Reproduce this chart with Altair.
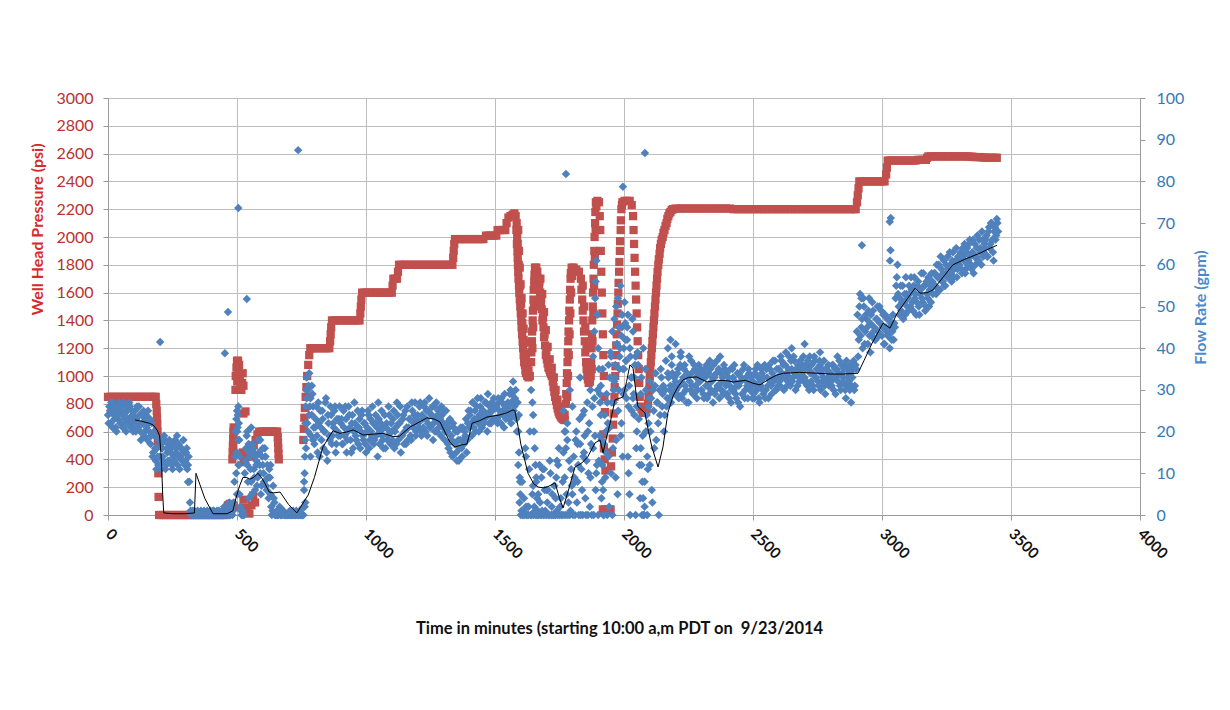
import altair as alt
import pandas as pd

FONT = "Lato"

# ---------------- data ----------------
x_ticks = [0, 500, 1000, 1500, 2000, 2500, 3000, 3500, 4000]
p_ticks = [0, 200, 400, 600, 800, 1000, 1200, 1400, 1600, 1800, 2000, 2200, 2400, 2600, 2800, 3000]
f_ticks = [0, 10, 20, 30, 40, 50, 60, 70, 80, 90, 100]

# Well head pressure (psi): (minute, psi)
pressure_points = [
    (0, 850), (10, 850), (20, 850), (30, 850), (40, 850), (50, 850), (60, 850), (70, 850), (80, 850), (90, 850),
    (100, 850), (110, 850), (120, 850), (130, 850), (140, 850), (150, 850), (160, 850), (170, 850), (180, 850), (185, 850),
    (187, 800), (189, 750), (190, 700), (191, 650), (192, 600), (193, 550), (194, 500), (195, 300), (196, 130), (198, 0),
    (205, 0), (215, 0), (225, 0), (235, 0), (245, 0), (255, 0), (265, 0), (275, 0), (285, 0), (295, 0),
    (305, 0), (315, 0), (325, 0), (335, 0), (345, 0), (355, 0), (365, 0), (375, 0), (385, 0), (395, 0),
    (405, 0), (415, 0), (425, 0), (435, 0), (445, 0), (455, 0),
    (465, 70), (472, 80), (480, 70), (488, 60),
    (482, 400), (483, 450), (484, 500), (485, 550), (486, 600), (487, 630),
    (494, 900), (495, 1000), (498, 1060), (500, 1110), (504, 1110), (508, 1080), (511, 1000), (514, 940), (517, 900),
    (520, 950), (522, 1020), (525, 930), (501, 960), (506, 1020),
    (525, 730), (533, 745),
    (522, 450), (527, 400), (532, 380), (537, 420), (542, 450),
    (525, 110), (532, 50), (540, 20), (548, 10), (556, 70), (563, 140), (570, 90),
    (552, 420), (558, 460), (565, 500), (572, 540), (579, 580), (586, 600), (594, 600), (602, 600), (610, 600),
    (618, 600), (626, 600), (634, 600), (642, 600), (650, 600), (656, 600),
    (658, 560), (659, 520), (660, 480), (661, 440), (662, 400),
    (757, 540), (759, 620), (761, 700), (763, 770), (766, 850), (769, 920), (772, 1000), (776, 1080), (780, 1150), (784, 1200),
    (792, 1200), (800, 1200), (810, 1200), (820, 1200), (830, 1200), (840, 1200), (850, 1200), (858, 1200),
    (861, 1250), (863, 1300), (865, 1350), (868, 1400),
    (878, 1400), (888, 1400), (898, 1400), (908, 1400), (918, 1400), (928, 1400), (938, 1400), (948, 1400), (958, 1400), (968, 1400), (975, 1400),
    (978, 1450), (980, 1500), (982, 1550), (985, 1600),
    (995, 1600), (1005, 1600), (1015, 1600), (1025, 1600), (1035, 1600), (1045, 1600), (1055, 1600), (1065, 1600), (1075, 1600), (1085, 1600), (1095, 1600), (1100, 1600),
    (1103, 1650), (1106, 1700), (1113, 1700), (1120, 1700), (1124, 1750), (1128, 1800),
    (1135, 1800), (1145, 1800), (1155, 1800), (1165, 1800), (1175, 1800), (1185, 1800), (1195, 1800), (1205, 1800), (1215, 1800), (1225, 1800),
    (1235, 1800), (1245, 1800), (1255, 1800), (1265, 1800), (1275, 1800), (1285, 1800), (1295, 1800), (1305, 1800), (1315, 1800), (1325, 1800), (1335, 1800),
    (1338, 1850), (1340, 1900), (1342, 1950), (1345, 1985),
    (1355, 1985), (1365, 1985), (1375, 1985), (1385, 1985), (1395, 1985), (1405, 1985), (1415, 1985), (1425, 1985), (1435, 1985), (1445, 1985), (1455, 1985),
    (1465, 2010), (1475, 2010), (1485, 2010), (1495, 2010), (1505, 2010),
    (1510, 2050), (1520, 2050), (1530, 2050), (1540, 2050),
    (1545, 2100), (1552, 2140), (1560, 2150), (1568, 2160), (1575, 2170), (1580, 2150),
    (1583, 2050), (1585, 1950), (1588, 1850), (1590, 1750), (1593, 1650), (1596, 1550), (1600, 1450), (1603, 1350), (1607, 1250),
    (1611, 1150), (1616, 1080), (1620, 1020), (1625, 1000), (1630, 990), (1635, 1000),
    (1588, 1950), (1592, 1800), (1597, 1650), (1601, 1520), (1606, 1380), (1611, 1260), (1616, 1160), (1622, 1070),
    (1640, 1100), (1643, 1250), (1646, 1400), (1649, 1550), (1652, 1680), (1655, 1780), (1660, 1780),
    (1664, 1750), (1668, 1700), (1675, 1600), (1681, 1480), (1688, 1350), (1694, 1220), (1701, 1120), (1707, 1060),
    (1714, 1030), (1720, 1000), (1727, 920), (1733, 850), (1740, 790), (1746, 745), (1752, 720), (1758, 700), (1764, 690), (1770, 683),
    (1672, 1680), (1679, 1560), (1686, 1420), (1692, 1300), (1699, 1180),
    (1775, 800), (1778, 950), (1781, 1100), (1784, 1250), (1787, 1400), (1790, 1550), (1793, 1700), (1797, 1780),
    (1805, 1780), (1815, 1765), (1825, 1750), (1833, 1700), (1838, 1550), (1843, 1400), (1848, 1250), (1853, 1100),
    (1858, 1000), (1863, 950), (1868, 960), (1873, 1100), (1876, 1300), (1879, 1500), (1882, 1700), (1885, 1900),
    (1888, 2100), (1891, 2250), (1897, 2260), (1903, 2250), (1906, 2150), (1908, 2050), (1910, 1900), (1912, 1750),
    (1914, 1600), (1916, 1450), (1918, 1300), (1920, 1150), (1922, 1000), (1924, 850), (1926, 740),
    (1920, 580), (1922, 480), (1925, 400), (1928, 320),
    (1918, 40), (1926, 40), (1934, 40), (1942, 40), (1948, 40),
    (1950, 350), (1953, 450), (1956, 550), (1958, 650), (1960, 730), (1963, 850), (1966, 1000), (1969, 1150), (1972, 1300),
    (1975, 1450), (1978, 1600), (1981, 1750), (1984, 1900), (1987, 2050), (1990, 2200), (1994, 2250),
    (2002, 2260), (2012, 2260), (2022, 2260), (2030, 2230),
    (2035, 2150), (2037, 2050), (2039, 1950), (2041, 1850), (2043, 1750), (2045, 1650), (2047, 1550), (2049, 1450),
    (2051, 1350), (2053, 1250), (2055, 1150), (2057, 1050), (2059, 950), (2061, 850), (2063, 780),
    (2068, 760), (2073, 740), (2078, 735), (2083, 740), (2088, 760),
    (2093, 800), (2097, 900), (2100, 1000), (2104, 1100), (2108, 1200), (2112, 1300), (2116, 1400), (2120, 1500),
    (2124, 1600), (2128, 1700), (2133, 1800), (2138, 1880), (2143, 1950), (2150, 2000), (2157, 2050), (2165, 2100),
    (2172, 2150), (2180, 2180), (2190, 2200),
    (2200, 2205), (2215, 2205), (2230, 2205), (2245, 2205), (2260, 2205), (2275, 2205), (2290, 2205), (2305, 2205),
    (2320, 2205), (2335, 2205), (2350, 2205), (2365, 2205), (2380, 2205), (2395, 2205), (2410, 2205), (2425, 2200),
    (2440, 2200), (2455, 2200), (2470, 2200), (2485, 2200), (2500, 2200), (2515, 2200), (2530, 2200), (2545, 2200),
    (2560, 2200), (2575, 2200), (2590, 2200), (2605, 2200), (2620, 2200), (2635, 2200), (2650, 2200), (2665, 2200),
    (2680, 2200), (2695, 2200), (2710, 2200), (2725, 2200), (2740, 2200), (2755, 2200), (2770, 2200), (2785, 2200),
    (2800, 2200), (2815, 2200), (2830, 2200), (2845, 2200), (2860, 2200), (2875, 2200), (2890, 2200), (2898, 2200),
    (2903, 2250), (2906, 2300), (2909, 2350), (2912, 2400),
    (2920, 2400), (2930, 2400), (2940, 2400), (2950, 2400), (2960, 2400), (2970, 2400), (2980, 2400), (2990, 2400), (3000, 2400), (3010, 2400),
    (3016, 2450), (3019, 2500), (3022, 2550),
    (3030, 2550), (3040, 2550), (3050, 2550), (3060, 2550), (3070, 2550), (3080, 2550), (3090, 2550), (3100, 2550),
    (3110, 2550), (3120, 2550), (3130, 2550), (3140, 2555), (3150, 2555), (3160, 2555), (3170, 2555),
    (3175, 2570), (3180, 2580), (3190, 2580), (3200, 2580), (3210, 2580), (3220, 2580), (3230, 2580), (3240, 2580),
    (3250, 2580), (3260, 2580), (3270, 2580), (3280, 2580), (3290, 2580), (3300, 2580), (3310, 2580), (3320, 2580),
    (3330, 2580), (3340, 2578), (3350, 2578), (3360, 2575), (3370, 2575), (3380, 2575), (3390, 2572), (3400, 2572),
    (3410, 2570), (3420, 2570), (3430, 2570), (3440, 2570), (3445, 2570),
]

# Additional pressure readings along the fast swings (1580-2190 min)
pressure_swing_points = [
    (1584, 2100), (1586, 2000), (1587, 1900), (1589, 1800), (1591, 1700), (1594, 1600), (1598, 1500), (1602, 1400),
    (1605, 1300), (1609, 1200), (1613, 1100), (1618, 1040), (1590, 2050), (1593, 1900), (1596, 1780), (1599, 1660),
    (1603, 1560), (1607, 1450), (1611, 1340), (1615, 1240), (1620, 1150), (1625, 1080), (1630, 1040),
    (1641, 1170), (1644, 1320), (1647, 1470), (1650, 1620), (1653, 1730), (1645, 1200), (1648, 1350), (1651, 1500),
    (1654, 1650), (1657, 1760),
    (1671, 1650), (1678, 1530), (1684, 1400), (1690, 1280), (1697, 1150), (1704, 1090), (1711, 1045), (1717, 1015),
    (1724, 960), (1730, 885), (1737, 820), (1743, 765), (1749, 730), (1755, 710), (1761, 695), (1767, 686),
    (1676, 1700), (1683, 1590), (1690, 1460), (1697, 1330), (1704, 1210), (1712, 1120), (1720, 1060), (1728, 990),
    (1735, 900), (1742, 830), (1749, 780), (1756, 750), (1763, 730), (1770, 720),
    (1776, 870), (1779, 1020), (1782, 1170), (1785, 1320), (1788, 1470), (1791, 1620), (1794, 1740), (1780, 850),
    (1783, 1000), (1786, 1150), (1789, 1300), (1792, 1450), (1795, 1600), (1799, 1720),
    (1835, 1620), (1840, 1470), (1845, 1320), (1850, 1170), (1855, 1050), (1860, 975), (1840, 1650), (1845, 1500),
    (1850, 1350), (1855, 1200), (1860, 1100), (1865, 1000),
    (1871, 1000), (1874, 1200), (1877, 1400), (1880, 1600), (1883, 1800), (1886, 2000), (1889, 2180), (1875, 1050),
    (1878, 1250), (1881, 1450), (1884, 1650), (1887, 1850), (1890, 2050), (1893, 2220),
    (1964, 920), (1967, 1070), (1970, 1220), (1973, 1370), (1976, 1520), (1979, 1670), (1982, 1820), (1985, 1970),
    (1988, 2120), (1992, 2230),
    (2095, 850), (2099, 950), (2102, 1050), (2106, 1150), (2110, 1250), (2114, 1350), (2118, 1450), (2122, 1550),
    (2126, 1650), (2130, 1750), (2135, 1840), (2140, 1920), (2146, 1980), (2153, 2030), (2161, 2080), (2168, 2130),
    (2176, 2170), (2185, 2195),
]

# Flow rate (gpm), sampled every 5 minutes; each row covers 100 minutes
flow_start_minutes = [0, 100, 200, 300, 400, 500, 600, 700, 800, 900, 1000, 1100, 1200, 1300, 1400, 1500, 1600,
                      1700, 1800, 1900, 2000, 2100, 2200, 2300, 2400, 2500, 2600, 2700, 2800, 2900, 3000, 3100,
                      3200, 3300, 3400]
flow_rows = [
    [24, 26, 22, 25, 27, 23, 21, 25, 24, 26, 22, 24, 27, 23, 20, 25, 23, 26, 22, 24],
    [21, 25, 23, 22, 26, 20, 24, 22, 19, 23, 21, 25, 20, 17, 22, 15, 19, 13, 16, 12],
    [14, 11, 16, 13, 18, 12, 15, 17, 13, 16, 11, 14, 18, 15, 12, 17, 14, 16, 13, 15],
    [13, 16, 12, 8, 1, 0, 0, 1, 0, 0, 0, 0, 1, 0, 0, 0, 0, 1, 0, 0],
    [0, 0, 1, 0, 0, 0, 1, 0, 0, 0, 2, 0, 1, 0, 3, 0, 2, 1, 8, 20],
    [25, 18, 5, 1, 0, 0, 10, 16, 12, 4, 14, 8, 17, 11, 6, 13, 9, 15, 10, 7],
    [12, 8, 14, 6, 9, 11, 5, 0, 7, 3, 0, 1, 0, 2, 0, 0, 1, 0, 0, 0],
    [0, 1, 0, 0, 0, 0, 1, 0, 0, 0, 0, 0, 8, 3, 28, 20, 34, 14, 24, 18],
    [17, 23, 19, 27, 14, 21, 25, 16, 20, 28, 13, 22, 18, 24, 19, 21, 26, 17, 20, 23],
    [19, 23, 17, 21, 26, 15, 20, 24, 18, 22, 16, 27, 19, 21, 17, 23, 20, 25, 18, 22],
    [15, 21, 24, 18, 20, 26, 17, 22, 19, 14, 23, 20, 25, 18, 21, 16, 22, 19, 24, 17],
    [20, 23, 16, 21, 27, 18, 22, 15, 19, 24, 20, 17, 26, 21, 23, 18, 25, 22, 27, 20],
    [24, 21, 27, 19, 23, 26, 20, 25, 22, 28, 21, 24, 18, 26, 23, 20, 25, 22, 19, 24],
    [22, 18, 25, 20, 16, 23, 19, 14, 21, 17, 15, 20, 13, 18, 16, 21, 17, 19, 15, 22],
    [21, 25, 19, 27, 23, 20, 26, 22, 24, 28, 21, 25, 23, 27, 20, 24, 26, 22, 25, 28],
    [23, 26, 22, 27, 24, 28, 25, 21, 26, 24, 27, 23, 25, 29, 24, 26, 30, 20, 12, 3],
    [0, 8, 1, 0, 14, 0, 2, 20, 0, 5, 0, 1, 9, 0, 0, 3, 0, 11, 0, 1],
    [0, 6, 0, 10, 2, 0, 7, 0, 1, 12, 0, 4, 0, 15, 9, 0, 18, 3, 0, 11],
    [5, 14, 0, 20, 8, 0, 17, 11, 0, 25, 4, 13, 0, 22, 9, 0, 16, 28, 6, 12],
    [0, 19, 31, 8, 0, 24, 15, 0, 36, 21, 10, 0, 27, 33, 18, 5, 30, 40, 22, 14],
    [35, 42, 28, 48, 31, 38, 25, 44, 33, 0, 26, 36, 12, 29, 0, 40, 8, 30, 0, 22],
    [12, 28, 3, 25, 31, 18, 27, 0, 24, 33, 29, 20, 30, 26, 34, 28, 31, 36, 29, 33],
    [32, 29, 35, 31, 38, 28, 33, 36, 30, 34, 27, 32, 37, 31, 29, 35, 33, 30, 36, 32],
    [30, 34, 28, 33, 36, 31, 29, 35, 32, 27, 33, 30, 37, 31, 28, 34, 32, 29, 35, 31],
    [29, 33, 31, 27, 35, 30, 32, 28, 34, 31, 26, 33, 29, 36, 30, 32, 28, 34, 31, 30],
    [32, 28, 35, 30, 33, 27, 31, 34, 29, 36, 30, 33, 28, 35, 31, 34, 32, 37, 30, 33],
    [35, 31, 37, 33, 30, 36, 34, 32, 38, 31, 35, 33, 37, 30, 34, 36, 32, 35, 33, 38],
    [33, 36, 31, 35, 38, 32, 34, 30, 37, 33, 35, 31, 36, 34, 32, 37, 29, 35, 33, 31],
    [34, 31, 36, 33, 29, 35, 32, 37, 30, 34, 33, 36, 31, 35, 32, 30, 34, 33, 37, 31],
    [35, 48, 42, 53, 45, 40, 50, 44, 47, 41, 52, 46, 43, 49, 45, 42, 47, 44, 50, 46],
    [43, 48, 41, 45, 47, 43, 40, 46, 44, 42, 45, 55, 60, 50, 52, 49, 55, 51, 48, 53],
    [52, 55, 50, 54, 49, 57, 53, 51, 56, 48, 54, 52, 58, 55, 50, 53, 57, 54, 51, 56],
    [55, 58, 53, 57, 60, 54, 59, 56, 61, 55, 58, 62, 57, 60, 56, 63, 59, 61, 57, 62],
    [60, 63, 58, 62, 65, 59, 64, 61, 66, 60, 63, 58, 65, 62, 67, 61, 64, 60, 66, 63],
    [64, 67, 62, 69, 65, 70, 63, 68, 66, 71, 68],
]
# Second set of readings, taken 2.5 minutes after each of the above
flow_rows_b = [
    [22, 25, 27, 21, 24, 26, 20, 23, 27, 22, 25, 21, 24, 26, 22, 23, 27, 21, 25, 20],
    [23, 20, 26, 21, 24, 18, 22, 25, 20, 24, 18, 22, 23, 19, 14, 20, 16, 11, 14, 18],
    [12, 17, 14, 19, 11, 16, 13, 18, 15, 12, 17, 13, 16, 19, 14, 11, 16, 13, 18, 12],
    [15, 11, 14, 3, 0, 1, 0, 0, 0, 1, 0, 0, 0, 0, 1, 0, 0, 0, 0, 1],
    [0, 1, 0, 0, 1, 0, 0, 0, 1, 0, 0, 1, 0, 2, 0, 1, 0, 3, 14, 23],
    [21, 12, 2, 0, 1, 0, 13, 19, 8, 15, 11, 5, 16, 9, 14, 7, 18, 12, 5, 14],
    [10, 16, 7, 12, 4, 9, 2, 1, 4, 0, 0, 0, 1, 0, 0, 1, 0, 0, 0, 0],
    [0, 0, 0, 1, 0, 0, 0, 0, 1, 0, 0, 0, 2, 16, 22, 31, 26, 19, 29, 21],
    [21, 26, 15, 22, 25, 18, 23, 20, 27, 15, 24, 19, 26, 17, 22, 25, 15, 23, 19, 26],
    [22, 17, 25, 19, 23, 18, 26, 21, 15, 24, 20, 22, 18, 25, 21, 16, 24, 19, 22, 17],
    [20, 25, 16, 23, 19, 22, 18, 24, 21, 27, 17, 22, 19, 16, 24, 21, 18, 26, 20, 22],
    [18, 25, 20, 17, 24, 22, 26, 19, 23, 17, 25, 21, 18, 23, 19, 27, 21, 24, 19, 23],
    [22, 26, 20, 24, 21, 27, 23, 19, 25, 21, 24, 26, 22, 20, 27, 24, 21, 23, 26, 21],
    [25, 20, 22, 17, 21, 15, 18, 22, 17, 20, 13, 18, 16, 21, 14, 18, 20, 23, 18, 25],
    [24, 22, 27, 21, 25, 23, 28, 20, 26, 23, 25, 22, 27, 24, 29, 22, 25, 27, 23, 26],
    [26, 23, 28, 25, 22, 27, 24, 29, 23, 26, 25, 29, 22, 27, 25, 28, 23, 27, 24, 8],
    [1, 0, 4, 16, 0, 2, 11, 0, 0, 7, 2, 0, 0, 5, 12, 0, 1, 0, 6, 0],
    [3, 0, 13, 0, 5, 0, 0, 9, 0, 16, 2, 0, 8, 0, 20, 5, 0, 13, 1, 7],
    [0, 9, 18, 3, 12, 23, 0, 6, 14, 19, 0, 27, 10, 2, 17, 26, 0, 19, 10, 30],
    [13, 27, 4, 35, 17, 9, 29, 22, 2, 39, 27, 16, 32, 9, 41, 25, 35, 19, 45, 29],
    [30, 37, 45, 26, 40, 33, 47, 29, 36, 16, 39, 23, 4, 33, 19, 0, 35, 24, 11, 28],
    [20, 6, 30, 16, 34, 27, 22, 30, 35, 26, 31, 24, 37, 28, 33, 30, 27, 34, 31, 29],
    [30, 34, 28, 36, 32, 29, 35, 31, 27, 33, 38, 30, 34, 29, 36, 31, 28, 34, 32, 35],
    [33, 29, 35, 31, 28, 34, 37, 30, 33, 36, 29, 34, 31, 35, 38, 30, 33, 36, 29, 34],
    [32, 28, 35, 30, 33, 36, 29, 31, 27, 34, 32, 29, 35, 28, 33, 31, 35, 30, 33, 28],
    [29, 34, 31, 36, 28, 32, 35, 30, 33, 28, 35, 31, 36, 32, 29, 37, 33, 30, 35, 31],
    [32, 38, 34, 36, 33, 39, 31, 35, 33, 37, 32, 38, 34, 35, 31, 33, 37, 34, 36, 32],
    [35, 32, 37, 30, 34, 36, 31, 38, 33, 35, 32, 37, 30, 35, 33, 31, 35, 32, 36, 34],
    [32, 36, 30, 35, 33, 38, 34, 31, 36, 32, 35, 30, 37, 33, 34, 36, 31, 35, 30, 36],
    [44, 38, 50, 43, 47, 52, 41, 48, 45, 49, 43, 48, 51, 44, 42, 47, 50, 43, 46, 49],
    [45, 41, 48, 44, 43, 47, 45, 42, 48, 46, 52, 57, 53, 48, 55, 51, 47, 53, 57, 50],
    [49, 53, 57, 51, 55, 52, 48, 55, 50, 53, 58, 51, 55, 49, 56, 52, 50, 55, 58, 53],
    [58, 55, 60, 54, 57, 62, 56, 58, 55, 60, 57, 59, 63, 58, 61, 57, 60, 64, 59, 61],
    [62, 59, 64, 61, 58, 63, 60, 65, 62, 59, 66, 62, 60, 64, 61, 66, 63, 68, 62, 65],
    [66, 62, 68, 64, 70, 66, 61, 69, 67, 70],
]

# Extra flow readings (outliers and the dense vertical runs): (minute, gpm)
flow_extra_points = [
    (202, 41.5), (310, 7.9), (453, 38.8), (465, 48.7), (505, 73.6), (538, 51.8), (737, 87.5),
    (1775, 81.8), (1996, 78.7), (2081, 86.8), (2922, 64.7), (3030, 70.3), (3034, 71.2), (3033, 63.5),
    (3031, 61), (2955, 39), (2920, 52),
    (497, 10), (499, 15), (501, 20), (503, 24), (505, 26), (507, 22), (509, 18), (511, 14), (500, 5), (506, 12),
    (540, 20), (545, 17), (555, 21), (560, 15), (575, 12), (590, 18), (600, 16), (610, 14), (620, 9), (630, 12),
    (758, 2), (760, 6), (762, 10), (763, 14), (764, 18), (765, 22), (766, 26), (768, 30), (770, 33), (775, 30),
    (780, 24), (785, 28), (790, 31), (795, 26),
    (1560, 30), (1562, 27), (1565, 24), (1570, 32), (1590, 20), (1593, 15), (1596, 9), (1598, 5), (1610, 0),
    (1620, 2), (1630, 0), (1640, 30), (1645, 27), (1648, 24), (1651, 20), (1654, 16), (1657, 12), (1660, 8),
    (1663, 4), (1666, 1), (1680, 9), (1690, 11), (1700, 6), (1720, 0), (1735, 4), (1740, 13), (1750, 0),
    (1765, 25), (1770, 20), (1775, 16), (1780, 22), (1790, 30), (1800, 26), (1810, 8), (1820, 17), (1830, 33),
    (1840, 24), (1845, 15),
    (1860, 20), (1870, 30), (1880, 38), (1885, 44), (1888, 52), (1890, 56), (1893, 61), (1896, 48), (1900, 40),
    (1903, 35), (1906, 29), (1910, 24), (1913, 18), (1916, 12), (1919, 6), (1922, 0), (1930, 20), (1935, 27),
    (1940, 14), (1945, 33),
    (1950, 38), (1955, 44), (1960, 30), (1963, 47), (1966, 36), (1970, 50), (1973, 41), (1976, 52), (1980, 45),
    (1983, 38), (1986, 55), (1990, 43), (1993, 48), (1996, 35), (1999, 40), (2002, 51), (2005, 46), (2008, 37),
    (2012, 42), (2015, 14), (2018, 10), (2021, 5), (2024, 0), (2030, 33), (2035, 28), (2040, 24), (2045, 38),
    (2050, 20),
    (2065, 16), (2068, 12), (2071, 8), (2074, 4), (2077, 0), (2080, 2), (2085, 20), (2090, 14), (2095, 26), (2100, 32),
    (2170, 40), (2180, 42), (2185, 38), (2200, 41), (2220, 39),
    (2650, 40), (2700, 41), (2760, 39), (2880, 27), (2860, 28),
]

# Smoothed flow rate (black trend line): (minute, gpm)
flow_trend_points = [
    (105, 22.8), (130, 22.5), (160, 22), (175, 21.6), (190, 20.4), (200, 19), (205, 15), (208, 11.6), (212, 5),
    (216, 0.5), (250, 0.3), (300, 0.3), (335, 0.5), (341, 10), (375, 4), (407, 0.3), (461, 0.3), (484, 1),
    (497, 4.3), (510, 7), (523, 9), (538, 9), (550, 8.6), (565, 9), (581, 10), (595, 9), (608, 7.6), (625, 5.5),
    (640, 5.3), (667, 5.5), (700, 2.5), (732, 0.5), (776, 4.8), (800, 9), (833, 16.3), (855, 18.5), (872, 20.2),
    (899, 19.6), (925, 19.9), (950, 20.4), (970, 19.8), (988, 19.2), (1030, 19.4), (1066, 19.6), (1105, 18.8),
    (1130, 18.9), (1171, 21.1), (1198, 22), (1236, 23.3), (1265, 23), (1287, 22.3), (1306, 19.9), (1325, 17.5),
    (1345, 16.3), (1370, 16.8), (1391, 17), (1400, 19), (1411, 22), (1440, 22.6), (1469, 23.5), (1519, 24),
    (1545, 24.5), (1570, 25.2), (1577, 25), (1590, 21), (1600, 17), (1628, 10), (1650, 7.5), (1667, 6.7),
    (1690, 6.5), (1705, 6.8), (1733, 7.7), (1750, 4), (1764, 1.7), (1785, 6), (1810, 11.5), (1837, 12.5),
    (1860, 14), (1888, 17.3), (1907, 18), (1919, 14.9), (1930, 18), (1946, 22), (1965, 27.6), (1996, 28.3),
    (2010, 32), (2023, 36), (2035, 35.2), (2045, 30), (2054, 26), (2081, 24.5), (2095, 20), (2108, 16.3),
    (2132, 11.5), (2151, 16.3), (2170, 24.5), (2190, 28.5), (2209, 30.7), (2229, 32.4), (2250, 33), (2282, 33.1),
    (2322, 31.9), (2360, 32.3), (2400, 32.2), (2424, 31.9), (2470, 32.3), (2500, 31.6), (2527, 31.2),
    (2560, 32.5), (2590, 33.5), (2618, 34), (2680, 34.2), (2748, 34), (2800, 33.8), (2850, 33.8), (2907, 34),
    (2930, 37), (2960, 41), (3004, 46), (3031, 44.8), (3060, 48.5), (3100, 52), (3128, 54.4), (3147, 53.2),
    (3175, 53.3), (3198, 54), (3230, 56.5), (3275, 60), (3320, 61.3), (3380, 62.8), (3420, 64), (3446, 64.7),
]

# ---------------- tables ----------------
press_df = pd.DataFrame(pressure_points + pressure_swing_points, columns=["t", "p"])
flow_records = []
for start, row in zip(flow_start_minutes, flow_rows):
    for i, v in enumerate(row):
        flow_records.append((start + 5 * i, v))
for start, row in zip(flow_start_minutes, flow_rows_b):
    for i, v in enumerate(row):
        flow_records.append((start + 5 * i + 2.5, v))
flow_records += flow_extra_points
flow_df = pd.DataFrame(flow_records, columns=["t", "f"])
trend_df = pd.DataFrame(flow_trend_points, columns=["t", "f"])

# ---------------- styling ----------------
RED = "#C0504D"
BLUE = "#4F81BD"
GRID = "#BDBDBD"
AXIS = "#9A9A9A"
X_TITLE = "Time in minutes (starting 10:00 a,m PDT on \u00a09/23/2014"

W, H = 1032, 417

x_scale = alt.Scale(domain=[0, 4000], nice=False, zero=False)
x_enc = alt.X(
    "t:Q",
    scale=x_scale,
    axis=alt.Axis(
        values=x_ticks, format="d", title=X_TITLE, grid=True, gridColor=GRID, gridWidth=1,
        domainColor=AXIS, tickColor=AXIS, tickSize=5,
        labelAngle=45, labelAlign="left", labelBaseline="middle", labelPadding=11,
        labelColor="#111111", labelFont=FONT, labelFontSize=15, labelFontWeight="bold",
        titleFont=FONT, titleFontSize=16.5, titleFontWeight="bold", titleColor="#111111",
        titleX=511, titleY=113, titleAlign="center", titleBaseline="middle",
    ),
)

flow_y = alt.Y(
    "f:Q",
    scale=alt.Scale(domain=[0, 100], nice=False),
    axis=alt.Axis(
        orient="right", values=f_ticks, format="d", title="Flow Rate (gpm)", grid=False,
        domainColor=AXIS, tickColor=AXIS, tickSize=5,
        labelColor="#3579B5", labelFont=FONT, labelFontSize=16, labelPadding=11,
        titleColor="#4A8ACB", titleFont=FONT, titleFontSize=16, titleFontWeight="bold",
        titleAngle=270, titleX=60, titleY=209, titleAlign="center", titleBaseline="middle",
    ),
)

press_layer = alt.Chart(press_df).mark_point(
    shape="square", filled=True, size=68, color=RED, opacity=1
).encode(
    x=x_enc,
    y=alt.Y(
        "p:Q",
        scale=alt.Scale(domain=[0, 3000], nice=False),
        axis=alt.Axis(
            orient="left", values=p_ticks, format="d", title="Well Head Pressure (psi)",
            grid=True, gridColor=GRID, gridWidth=1, domainColor=AXIS, tickColor=AXIS, tickSize=5,
            labelColor="#B8312F", labelFont=FONT, labelFontSize=16, labelPadding=10,
            titleColor="#D62B2B", titleFont=FONT, titleFontSize=16, titleFontWeight="bold",
            titleAngle=270, titleX=-71, titleY=131, titleAlign="center", titleBaseline="middle",
        ),
    ),
)

flow_layer = alt.Chart(flow_df).mark_point(
    shape="diamond", filled=True, size=72, color=BLUE, opacity=1
).encode(x=x_enc, y=flow_y)

trend_layer = alt.Chart(trend_df).mark_line(color="black", strokeWidth=1).encode(
    x=x_enc, y=flow_y, order="t:Q",
)

right_side = alt.layer(flow_layer, trend_layer)

chart = (
    alt.layer(press_layer, right_side)
    .resolve_scale(y="independent")
    .properties(
        width=W, height=H,
        autosize=alt.AutoSizeParams(type="none"),
        padding={"left": 100, "top": 90, "right": 74, "bottom": 170},
        background="white",
    )
    .configure_view(stroke=None)
)

chart.save("out.html", embed_options={"renderer": "svg", "actions": False})
